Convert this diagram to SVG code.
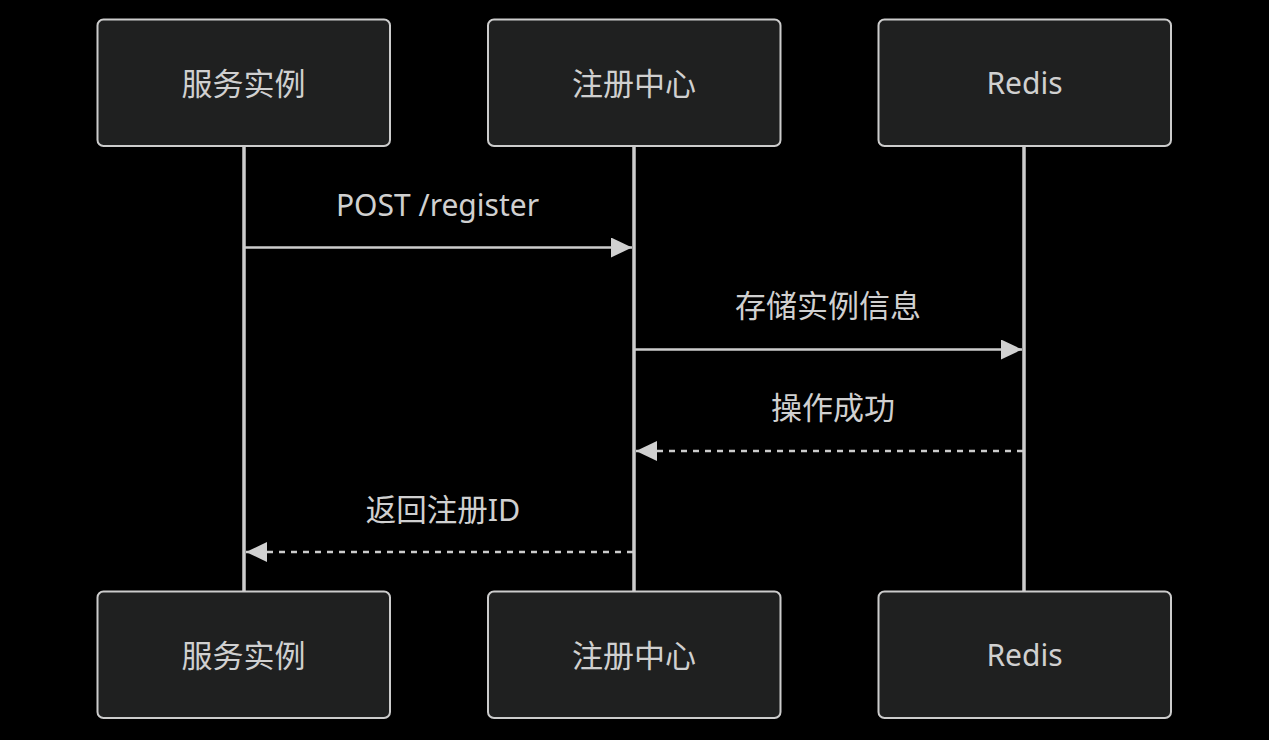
<svg xmlns="http://www.w3.org/2000/svg" width="1269" height="740" viewBox="0 0 1269 740">
<style>
.bg{fill:#000}
.actor{fill:#1f2020;stroke:#cccccc;stroke-width:2}
.life{stroke:#cccccc;stroke-width:3.5}
.msg{stroke:#cccccc;stroke-width:2.5;fill:none}
.dash{stroke-dasharray:6,6}
.t{font-family:"Noto Sans","Noto Sans CJK SC",sans-serif;font-size:30px;fill:#d0d0d0;text-anchor:middle;dominant-baseline:central}
.cjk{font-size:31px}
</style>
<defs>
<marker id="arr" markerUnits="userSpaceOnUse" markerWidth="22" markerHeight="22" refX="21" refY="10" orient="auto">
<path d="M0,0 L21,10 L0,20 Z" fill="#d0d0d0"/>
</marker>
</defs>
<rect class="bg" x="0" y="0" width="1269" height="740"/>
<g id="lifelines">
<line class="life" x1="244" y1="146" x2="244" y2="591"/>
<line class="life" x1="634" y1="146" x2="634" y2="591"/>
<line class="life" x1="1024" y1="146" x2="1024" y2="591"/>
</g>
<g id="actor-service-top"><rect class="actor" x="97.5" y="19.5" width="292.5" height="126.5" rx="6"/><text class="t cjk" x="243.5" y="82.5">服务实例</text></g>
<g id="actor-registry-top"><rect class="actor" x="488" y="19.5" width="292.5" height="126.5" rx="6"/><text class="t cjk" x="634" y="82.5">注册中心</text></g>
<g id="actor-redis-top"><rect class="actor" x="878.5" y="19.5" width="292.5" height="126.5" rx="6"/><text class="t" x="1024.5" y="82.5">Redis</text></g>
<g id="actor-service-bottom"><rect class="actor" x="97.5" y="591.5" width="292.5" height="126.5" rx="6"/><text class="t cjk" x="243.5" y="654.5">服务实例</text></g>
<g id="actor-registry-bottom"><rect class="actor" x="488" y="591.5" width="292.5" height="126.5" rx="6"/><text class="t cjk" x="634" y="654.5">注册中心</text></g>
<g id="actor-redis-bottom"><rect class="actor" x="878.5" y="591.5" width="292.5" height="126.5" rx="6"/><text class="t" x="1024.5" y="654.5">Redis</text></g>
<g id="connectors">
<line class="msg" x1="245" y1="247.5" x2="632" y2="247.5" marker-end="url(#arr)"/>
<text class="t" x="437.5" y="204">POST /register</text>
<line class="msg" x1="635" y1="349.5" x2="1022" y2="349.5" marker-end="url(#arr)"/>
<text class="t cjk" x="828" y="305">存储实例信息</text>
<line class="msg dash" x1="1023" y1="451" x2="636" y2="451" marker-end="url(#arr)"/>
<text class="t cjk" x="833" y="407">操作成功</text>
<line class="msg dash" x1="633" y1="552" x2="246" y2="552" marker-end="url(#arr)"/>
<text class="t" x="443" y="509" style="font-size:30.5px">返回注册ID</text>
</g>
</svg>
